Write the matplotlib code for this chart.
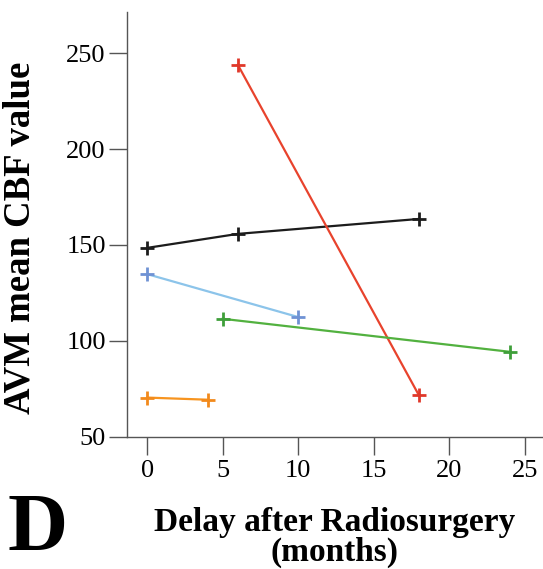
import matplotlib
matplotlib.use("Agg")
import matplotlib.pyplot as plt

plt.rcParams['font.family'] = ['Liberation Serif', 'DejaVu Serif']

# months after radiosurgery and AVM mean CBF for each patient
black_x = [0, 6, 18]
black_y = [148.5, 155.8, 163.6]
red_x = [6, 18]
red_y = [244, 71.5]
blue_x = [0, 10]
blue_y = [134.8, 112.4]
green_x = [5, 24]
green_y = [111.5, 94.3]
orange_x = [0, 4]
orange_y = [70.4, 69.3]

series = [
    (black_x, black_y, '#1c1c1c', '#1c1c1c'),
    (red_x, red_y, '#e8432d', '#e0382a'),
    (blue_x, blue_y, '#8cc4ea', '#6f92d4'),
    (green_x, green_y, '#52b13f', '#3f9f3a'),
    (orange_x, orange_y, '#f7941f', '#f28a1c'),
]

W, H = 543, 569
fig = plt.figure(figsize=(W / 100, H / 100), dpi=100)
ax = fig.add_axes([126.7 / W, (H - 436.7) / H, (W - 126.7) / W, (436.7 - 11.7) / H])

for xs, ys, lc, mc in series:
    ax.plot(xs, ys, color=lc, linewidth=1.6, zorder=2)
    ax.plot(xs, ys, linestyle='none', marker='+', markersize=10.5,
            markeredgewidth=2.0, color=mc, zorder=3)

ax.set_xlim(-1.36, 26.21)
ax.set_ylim(50, 271.7)
ax.set_xticks([0, 5, 10, 15, 20, 25])
ax.set_yticks([50, 100, 150, 200, 250])

for side in ['top', 'right']:
    ax.spines[side].set_visible(False)
for side in ['left', 'bottom']:
    ax.spines[side].set_color('#555555')
    ax.spines[side].set_linewidth(1.0)

ax.tick_params(axis='both', direction='out', length=13, width=1.0,
               color='#555555', labelsize=19, pad=2)
ax.tick_params(axis='x', pad=4)

ax.set_xlabel('Delay after Radiosurgery\n(months)', fontsize=24,
              fontweight='bold', linespacing=0.93)
ax.xaxis.set_label_coords(335 / W, 1 - 507 / H, transform=fig.transFigure)
ax.set_ylabel('AVM mean CBF value', fontsize=26.5, fontweight='bold')
ax.yaxis.set_label_coords(38 / W, 1 - 238 / H, transform=fig.transFigure)

# panel letter
fig.text(38 / W, 1 - 530 / H, 'D', fontsize=60, fontweight='bold',
         ha='center', va='center')

fig.savefig('out.png', dpi=100)
